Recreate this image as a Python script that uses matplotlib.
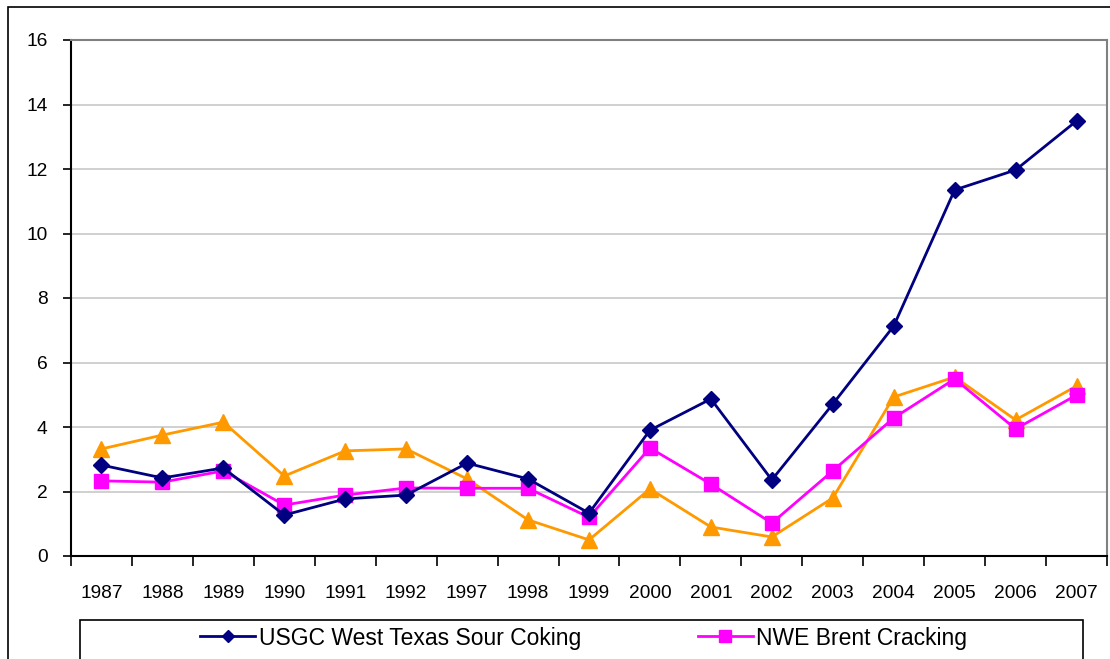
import matplotlib
matplotlib.use("Agg")
import matplotlib.pyplot as plt
from matplotlib.patches import Rectangle
from matplotlib.lines import Line2D

plt.rcParams['font.family'] = ['Liberation Sans', 'DejaVu Sans']

years = ["1987", "1988", "1989", "1990", "1991", "1992", "1997", "1998", "1999",
         "2000", "2001", "2002", "2003", "2004", "2005", "2006", "2007"]
usgc = [2.82, 2.42, 2.73, 1.27, 1.77, 1.89, 2.88, 2.39, 1.33,
        3.90, 4.87, 2.36, 4.71, 7.13, 11.35, 11.97, 13.49]
nwe = [2.33, 2.29, 2.64, 1.58, 1.89, 2.11, 2.10, 2.10, 1.20,
       3.35, 2.23, 1.02, 2.64, 4.28, 5.49, 3.94, 4.99]
third = [3.32, 3.75, 4.15, 2.48, 3.26, 3.32, 2.39, 1.12, 0.50,
         2.08, 0.90, 0.59, 1.80, 4.93, 5.55, 4.22, 5.27]
legend_labels = ["USGC West Texas Sour Coking", "NWE Brent Cracking"]
yticks = [0, 2, 4, 6, 8, 10, 12, 14, 16]

W, H = 1110, 659
fig = plt.figure(figsize=(W / 100, H / 100), dpi=100)
fig.patch.set_facecolor('white')

# outer chart border
fig.patches.append(Rectangle((8 / W, -0.1), 1.2, 1 - 7 / H + 0.1, transform=fig.transFigure,
                             fill=False, edgecolor='black', linewidth=1.2, zorder=0))

ax = fig.add_axes([71 / W, 1 - 556 / H, (1107 - 71) / W, (556 - 40) / H])
x = list(range(len(years)))

ax.plot(x, third, color='#FF9900', linewidth=2, marker='^', markersize=11,
        markeredgecolor='#FF9900', zorder=3)
ax.plot(x, nwe, color='#FF00FF', linewidth=2, marker='s', markersize=10,
        markeredgecolor='#FF00FF', zorder=4)
ax.plot(x, usgc, color='#000080', linewidth=2, marker='D', markersize=8.5,
        markeredgecolor='#000080', zorder=5)

ax.set_xlim(-0.5, len(years) - 0.5)
ax.set_ylim(0, 16)
ax.set_yticks(yticks)
ax.set_yticklabels([str(v) for v in yticks])
ax.yaxis.grid(True, color='#C8C8C8', linewidth=1.2)
ax.set_axisbelow(True)

ax.set_xticks([i - 0.5 for i in range(len(years) + 1)])
ax.set_xticklabels([])
ax.set_xticks(x, minor=True)
ax.set_xticklabels(years, minor=True)
ax.tick_params(axis='x', which='major', direction='out', length=7, width=1.2, color='black')
ax.tick_params(axis='x', which='minor', length=0, pad=21, labelsize=13.8)
ax.tick_params(axis='y', direction='out', length=6, width=1.2, pad=11, labelsize=13.8)

for s in ['left', 'bottom']:
    ax.spines[s].set_color('black')
    ax.spines[s].set_linewidth(1.5)
for s in ['top', 'right']:
    ax.spines[s].set_color('#808080')
    ax.spines[s].set_linewidth(1.5)

# legend box
fig.patches.append(Rectangle((80 / W, -0.1), (1083 - 80) / W, 1 - 620 / H + 0.1,
                             transform=fig.transFigure, fill=False, edgecolor='black',
                             linewidth=1.2, zorder=1))
handles = [Line2D([], [], color='#000080', linewidth=2, marker='D', markersize=6),
           Line2D([], [], color='#FF00FF', linewidth=2, marker='s', markersize=9)]
fig.legend(handles, legend_labels, loc='center', bbox_to_anchor=(0.526, 1 - 638 / H),
           ncol=2, frameon=False, fontsize=16.5, handlelength=2.4, columnspacing=5.1,
           handletextpad=0.15)

fig.savefig('out.png', dpi=100, facecolor='white')
